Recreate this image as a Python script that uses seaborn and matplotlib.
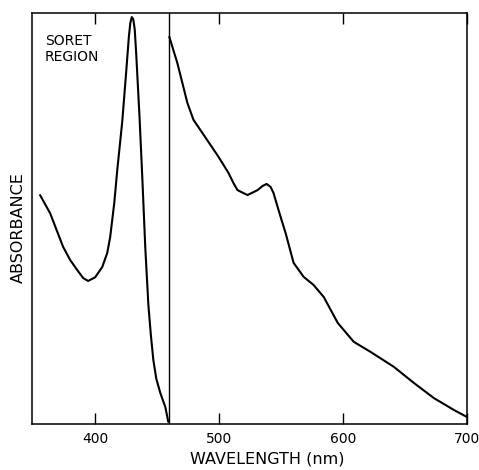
import matplotlib
matplotlib.use("Agg")
import matplotlib.pyplot as plt
import seaborn as sns

# Soret region (left of the divider)
soret_nm = [355.5, 363.6, 374.1, 379.8, 385.4, 390.3, 394.3, 400.0, 405.7, 409.7,
            412.1, 415.4, 417.8, 421.8, 425.1, 427.1, 428.3, 429.5, 430.7, 431.9,
            433.1, 435.8, 438.0, 440.4, 442.9, 444.9, 446.9, 449.3, 452.6, 456.6,
            459.0]
soret_abs = [0.557, 0.513, 0.431, 0.399, 0.375, 0.355, 0.348, 0.357, 0.382, 0.416,
             0.455, 0.538, 0.618, 0.735, 0.860, 0.940, 0.975, 0.990, 0.985, 0.960,
             0.900, 0.745, 0.600, 0.430, 0.290, 0.217, 0.156, 0.110, 0.075, 0.041,
             0.005]

# visible region (right of the divider)
vis_nm = [459.8, 466.3, 474.4, 479.3, 486.5, 493.0, 499.5, 507.5, 511.6, 514.8,
          522.9, 531.0, 535.0, 538.3, 541.5, 543.9, 547.2, 550.4, 553.6, 560.1,
          568.2, 576.3, 584.4, 595.7, 608.6, 622.4, 641.0, 657.1, 673.3, 689.5,
          700.0]
vis_abs = [0.942, 0.878, 0.781, 0.740, 0.708, 0.679, 0.650, 0.611, 0.586, 0.569,
           0.557, 0.569, 0.579, 0.584, 0.577, 0.562, 0.528, 0.496, 0.465, 0.392,
           0.358, 0.338, 0.309, 0.246, 0.200, 0.175, 0.139, 0.100, 0.063, 0.034,
           0.017]

divider_nm = 459.8
xticks = [400, 500, 600, 700]

sns.set_style("ticks")
plt.rcParams['font.family'] = ['DejaVu Sans']
plt.rcParams['text.color'] = 'black'
plt.rcParams['axes.labelcolor'] = 'black'
plt.rcParams['xtick.color'] = 'black'
plt.rcParams['axes.edgecolor'] = 'black'

fig = plt.figure(figsize=(4.79, 4.70), dpi=100)
ax = fig.add_axes([0.0668, 0.0979, 0.9081, 0.8745])

sns.lineplot(x=soret_nm, y=soret_abs, ax=ax, color='black', linewidth=1.5)
sns.lineplot(x=vis_nm, y=vis_abs, ax=ax, color='black', linewidth=1.5)
ax.axvline(divider_nm, color='black', linewidth=1.0)

ax.set_xlim(349, 700)
ax.set_ylim(0, 1)
ax.set_xticks(xticks)
ax.set_yticks([])
ax.tick_params(axis='x', direction='in', length=8, width=1, top=True,
               labelsize=10, pad=6)
for s in ax.spines.values():
    s.set_linewidth(1.1)

ax.set_xlabel('WAVELENGTH (nm)', fontsize=11.5)
ax.xaxis.set_label_coords(0.54, -0.068)
ax.set_ylabel('ABSORBANCE', fontsize=11.5)
ax.yaxis.set_label_coords(-0.015, 0.478)

ax.text(0.03, 0.948, 'SORET\nREGION', transform=ax.transAxes, fontsize=10,
        va='top', ha='left', linespacing=1.15)

fig.savefig('out.png', dpi=100)
